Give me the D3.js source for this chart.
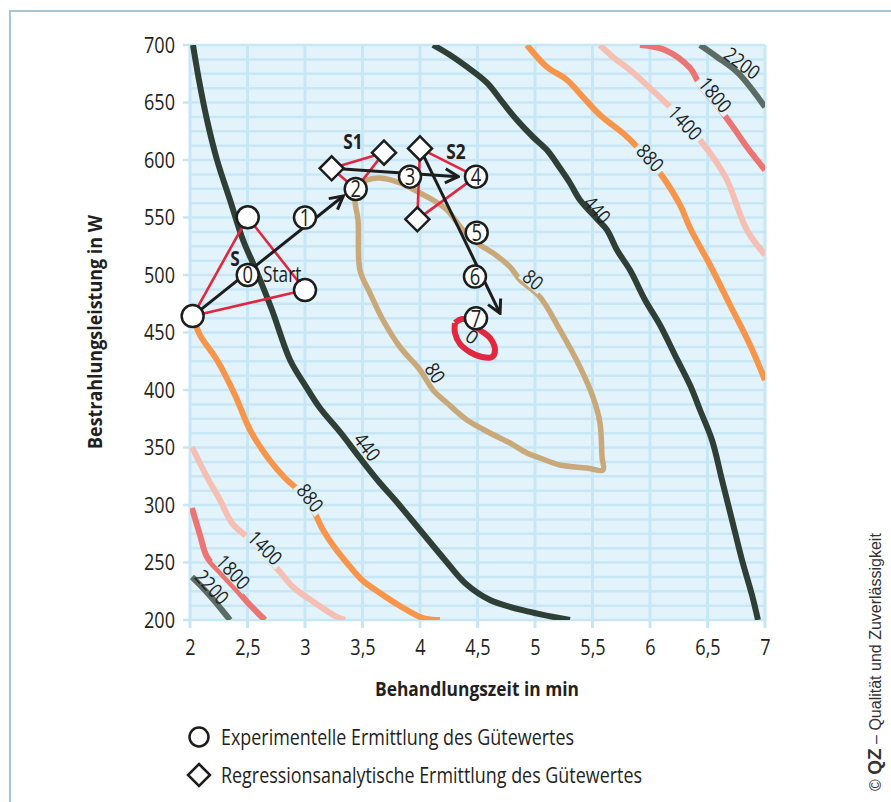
<!DOCTYPE html>
<html lang="de">
<head>
  <meta charset="UTF-8">
  <title>Gütewert</title>
  <style>
    body { margin: 0; background: #fff; }
    text { font-family: "Open Sans", "Noto Sans", sans-serif; fill: #231f20; }
  </style>
</head>
<body>
  <svg></svg>
  <script src="https://cdn.jsdelivr.net/npm/d3@7"></script>
  <script>
    var width = 891
    var height = 802

    // axes
    var xTicks = [2, 2.5, 3, 3.5, 4, 4.5, 5, 5.5, 6, 6.5, 7]
    var yTicks = [200, 250, 300, 350, 400, 450, 500, 550, 600, 650, 700]

    // contour lines (Behandlungszeit, Bestrahlungsleistung)
    var c440a = [[2.026,700],[2.078,669.6],[2.148,634.8],[2.235,600],[2.348,565.2],[2.461,530.4],[2.574,504.3],[2.713,469.6],[2.87,426.1],[3.0,404.3],[3.13,384.3],[3.304,363.5],[3.478,340.9],[3.652,319.1],[3.783,304.3],[4.0,278.3],[4.217,252.2],[4.391,232.2],[4.609,217.4],[4.957,207],[5.304,200]]
    var c440b = [[4.113,700],[4.261,691.3],[4.409,680.9],[4.583,667],[4.722,649.6],[4.843,634.8],[4.983,620],[5.104,608.7],[5.217,593],[5.304,580],[5.391,565.2],[5.539,548.7],[5.626,539.1],[5.713,521.7],[5.826,504.3],[5.957,478.3],[6.087,456.5],[6.217,430.4],[6.348,404.3],[6.435,382.6],[6.539,356.5],[6.626,321.7],[6.713,287],[6.8,252.2],[6.887,221.7],[6.939,200]]
    var c880a = [[2.026,463.5],[2.087,447.8],[2.235,426.1],[2.391,395.7],[2.522,365.2],[2.678,340.9],[2.826,323.5],[2.939,313],[3.061,297.4],[3.157,278.3],[3.261,262.6],[3.365,249.6],[3.496,234.8],[3.652,223.5],[3.826,212.2],[4.026,201.7],[4.174,200]]
    var c880b = [[4.93,700],[5.104,680.9],[5.278,669.6],[5.417,654.8],[5.565,639.1],[5.783,621.7],[5.913,608.7],[6.017,597.4],[6.13,582.6],[6.261,560.9],[6.348,540.9],[6.522,508.7],[6.696,473.9],[6.87,439.1],[7.0,408.7]]
    var c1400a = [[2.017,350.4],[2.148,324.3],[2.261,304.3],[2.365,284.3],[2.496,272.2],[2.652,256.5],[2.783,241.7],[2.896,228.7],[3.087,214.8],[3.278,202.6],[3.348,200]]
    var c1400b = [[5.565,700],[5.678,689.6],[5.826,678.3],[6.0,662.6],[6.174,646.1],[6.304,632.2],[6.435,617.4],[6.565,600],[6.67,582.6],[6.843,539.1],[7.0,517.4]]
    var c1800a = [[2.017,297.4],[2.087,273.9],[2.148,254.8],[2.261,241.7],[2.391,227.8],[2.522,213],[2.652,200]]
    var c1800b = [[5.913,700],[6.13,695.7],[6.348,680],[6.435,665.2],[6.565,649.6],[6.722,628.7],[6.843,611.3],[7.0,591.3]]
    var c2200a = [[2.017,237.4],[2.087,230.4],[2.191,219.1],[2.278,208.7],[2.348,200]]
    var c2200b = [[6.435,700],[6.583,689.6],[6.765,675.7],[7.0,646.1]]
    var c80 = [[3.461,577.4],[3.539,582.6],[3.652,584.3],[3.826,580],[4.0,571.3],[4.113,565.2],[4.235,556.5],[4.374,539.1],[4.496,527.8],[4.635,519.1],[4.783,507],[4.87,495.7],[5.043,480.9],[5.217,452.2],[5.391,420],[5.504,393.9],[5.565,371.3],[5.583,341.7],[5.591,330.4],[5.452,332.2],[5.217,334.8],[5.043,340.9],[4.93,345.2],[4.783,353.9],[4.609,362.6],[4.409,373.9],[4.235,388.7],[4.113,400],[4.0,417.4],[3.826,437.4],[3.678,460.9],[3.565,484.3],[3.478,504.3],[3.461,547.8],[3.435,565.2],[3.461,577.4]]
    var c0 = [[4.304,458.3],[4.365,461.7],[4.435,460],[4.522,452.2],[4.609,445.2],[4.652,434.8],[4.626,428.7],[4.539,428.7],[4.435,433],[4.348,440],[4.304,449.6],[4.304,458.3]]

    var contours = [
      {level: "80", color: "#c9a979", pts: c80},
      {level: "440", color: "#2f3f36", pts: c440a},
      {level: "440", color: "#2f3f36", pts: c440b},
      {level: "880", color: "#f7954a", pts: c880a},
      {level: "880", color: "#f7954a", pts: c880b},
      {level: "1400", color: "#f6bfb4", pts: c1400a},
      {level: "1400", color: "#f6bfb4", pts: c1400b},
      {level: "1800", color: "#ec7472", pts: c1800a},
      {level: "1800", color: "#ec7472", pts: c1800b},
      {level: "2200", color: "#5c6b64", pts: c2200a},
      {level: "2200", color: "#5c6b64", pts: c2200b},
      {level: "0", color: "#e2283f", pts: c0}
    ]

    // contour labels: position, line it follows, whether the line is cut under it
    var contourLabels = [
      {text: "440", x: 3.539, y: 350.4, line: c440a, gap: false},
      {text: "440", x: 5.539, y: 556.5, line: c440b, gap: false},
      {text: "880", x: 3.043, y: 306.1, line: c880a, gap: true},
      {text: "880", x: 6.0, y: 601.7, line: c880b, gap: true},
      {text: "1400", x: 2.652, y: 262.6, line: c1400a, gap: true},
      {text: "1400", x: 6.304, y: 632.2, line: c1400b, gap: true},
      {text: "1800", x: 2.374, y: 241.7, line: c1800a, gap: true},
      {text: "1800", x: 6.565, y: 656.5, line: c1800b, gap: true},
      {text: "2200", x: 2.19, y: 228.5, line: c2200a, gap: false},
      {text: "2200", x: 6.8, y: 684, line: c2200b, gap: false},
      {text: "80", x: 4.983, y: 495.7, line: c80, gap: true},
      {text: "80", x: 4.13, y: 414.8, line: c80, gap: false}
    ]
    var zeroLabel = {text: "0", x: 4.452, y: 446.1}

    // experimental points (circles) and regression points (diamonds)
    var circles = [
      {id: "L", x: 2.023, y: 464.3, label: ""},
      {id: "T", x: 2.502, y: 550.2, label: ""},
      {id: "R", x: 3.0, y: 486.9, label: ""},
      {id: "p0", x: 2.502, y: 500, label: "0"},
      {id: "p1", x: 3.0, y: 549.9, label: "1"},
      {id: "p2", x: 3.441, y: 574.8, label: "2"},
      {id: "p3", x: 3.913, y: 585.5, label: "3"},
      {id: "p4", x: 4.487, y: 585.5, label: "4"},
      {id: "p5", x: 4.493, y: 536.8, label: "5"},
      {id: "p6", x: 4.478, y: 498.6, label: "6"},
      {id: "p7", x: 4.487, y: 462.3, label: "7"}
    ]
    var diamonds = [
      {id: "S1a", x: 3.232, y: 592.8},
      {id: "S1b", x: 3.687, y: 606.4},
      {id: "S2a", x: 4.0, y: 610.1},
      {id: "S2b", x: 3.977, y: 548.4}
    ]
    var simplexEdges = [["L","T"],["T","R"],["R","L"],["S1a","S1b"],["S1b","p2"],["p2","S1a"],["S2a","p4"],["p4","S2b"],["S2b","S2a"]]
    var arrows = [
      {from: "L", to: [3.333, 568.7]},
      {from: "S1a", to: [4.333, 585.5]},
      {from: "S2a", to: [4.696, 466.7]}
    ]
    var pointLabels = [
      {text: "S", x: 2.391, y: 514.8, bold: true, anchor: "middle"},
      {text: "Start", x: 2.635, y: 500.9, bold: false, anchor: "start"},
      {text: "S1", x: 3.417, y: 616.5, bold: true, anchor: "middle"},
      {text: "S2", x: 4.313, y: 607.8, bold: true, anchor: "middle"}
    ]
    var legendItems = ["Experimentelle Ermittlung des Gütewertes", "Regressionsanalytische Ermittlung des Gütewertes"]

    var de = d3.formatLocale({decimal: ",", thousands: ".", grouping: [3], currency: ["", " €"]})
    var fmt = de.format("~g")

    var x = d3.scaleLinear().domain([2, 7]).range([190, 765])
    var y = d3.scaleLinear().domain([200, 700]).range([620, 45])

    var svg = d3.select("svg").attr("width", width).attr("height", height)

    // condensed look: squeeze text horizontally
    function squeeze(sel, k) {
      sel.each(function () {
        var w = this.getComputedTextLength()
        d3.select(this).attr("textLength", w * k).attr("lengthAdjust", "spacingAndGlyphs")
      })
    }

    // frame
    svg.append("rect").attr("x", 10).attr("y", 11).attr("width", 900).attr("height", 900)
      .attr("fill", "none").attr("stroke", "#a6c6d3").attr("stroke-width", 2)

    // plot background + grid
    var gridColor = "#c7e7f7"
    svg.append("rect").attr("x", x(2)).attr("y", y(700))
      .attr("width", x(7) - x(2)).attr("height", y(200) - y(700)).attr("fill", "#e2f3fb")
    svg.append("g").selectAll("line").data(d3.range(200, 700.1, 12.5)).join("line")
      .attr("x1", d => d % 50 == 0 ? x(2) - 7 : x(2)).attr("x2", x(7))
      .attr("y1", d => y(d)).attr("y2", d => y(d))
      .attr("stroke", gridColor).attr("stroke-width", 2.5)
    svg.append("g").selectAll("line").data(xTicks).join("line")
      .attr("x1", d => x(d)).attr("x2", d => x(d))
      .attr("y1", y(700)).attr("y2", y(200) + 8)
      .attr("stroke", gridColor).attr("stroke-width", 3)

    // axes labels
    var xAxis = svg.append("g")
      .attr("transform", `translate(0, ${y(200)})`)
      .call(d3.axisBottom(x).tickValues(xTicks).tickFormat(fmt).tickSize(0).tickPadding(19))
    var yAxis = svg.append("g")
      .attr("transform", `translate(${x(2)}, 0)`)
      .call(d3.axisLeft(y).tickValues(yTicks).tickFormat(fmt).tickSize(0).tickPadding(15))
    svg.selectAll(".domain").remove()
    svg.selectAll(".tick text").attr("font-size", 22).attr("font-family", null).style("fill", "#231f20")
    squeeze(svg.selectAll(".tick text"), 0.82)

    svg.append("text").attr("x", 477).attr("y", 696).attr("text-anchor", "middle")
      .attr("font-size", 20).attr("font-weight", "bold").text("Behandlungszeit in min")
      .attr("textLength", 204).attr("lengthAdjust", "spacingAndGlyphs")
    svg.append("text").attr("transform", "translate(102, 332) rotate(-90)").attr("text-anchor", "middle")
      .attr("font-size", 20).attr("font-weight", "bold").text("Bestrahlungsleistung in W")
      .attr("textLength", 234).attr("lengthAdjust", "spacingAndGlyphs")

    // contours
    var defs = svg.append("defs")
    var line = d3.line().x(d => x(d[0])).y(d => y(d[1])).curve(d3.curveCatmullRom.alpha(0.5))
    var mask = defs.append("mask").attr("id", "gaps").attr("maskUnits", "userSpaceOnUse")
      .attr("x", 0).attr("y", 0).attr("width", width).attr("height", height)
    mask.append("rect").attr("width", width).attr("height", height).attr("fill", "#fff")

    var clip = defs.append("clipPath").attr("id", "plot")
    clip.append("rect").attr("x", x(2)).attr("y", y(700)).attr("width", x(7) - x(2)).attr("height", y(200) - y(700))

    var cg = svg.append("g").attr("clip-path", "url(#plot)")
      .append("g").attr("mask", "url(#gaps)")
    cg.selectAll("path").data(contours).join("path")
      .attr("d", d => line(d.pts))
      .attr("fill", "none").attr("stroke", d => d.color)
      .attr("stroke-width", d => d.level == "80" ? 5.5 : 6)
      .attr("stroke-linejoin", "round")

    function angleAt(lab) {
      var px = x(lab.x), py = y(lab.y), best = Infinity, ang = 0
      for (var i = 0; i < lab.line.length - 1; i++) {
        var ax = x(lab.line[i][0]), ay = y(lab.line[i][1])
        var bx = x(lab.line[i + 1][0]), by = y(lab.line[i + 1][1])
        var dx = bx - ax, dy = by - ay
        var t = Math.max(0, Math.min(1, ((px - ax) * dx + (py - ay) * dy) / (dx * dx + dy * dy)))
        var qx = ax + t * dx - px, qy = ay + t * dy - py
        var dist = qx * qx + qy * qy
        if (dist < best) { best = dist; ang = Math.atan2(dy, dx) * 180 / Math.PI }
      }
      if (ang > 90) ang -= 180
      if (ang < -90) ang += 180
      return ang
    }

    var lg = svg.append("g")
    contourLabels.forEach(function (lab) {
      var a = angleAt(lab)
      var t = lg.append("text")
        .attr("transform", `translate(${x(lab.x)}, ${y(lab.y)}) rotate(${a})`)
        .attr("text-anchor", "middle").attr("dy", "0.35em")
        .attr("font-size", 20).text(lab.text)
      var w = t.node().getComputedTextLength()
      squeeze(t, 0.85)
      if (lab.gap) {
        var gw = w * 0.85 + 6
        mask.append("rect").attr("x", -gw / 2).attr("y", -8).attr("width", gw).attr("height", 16)
          .attr("fill", "#000")
          .attr("transform", `translate(${x(lab.x)}, ${y(lab.y)}) rotate(${a})`)
      }
    })
    lg.append("text")
      .attr("transform", `translate(${x(zeroLabel.x)}, ${y(zeroLabel.y)}) rotate(35)`)
      .attr("text-anchor", "middle").attr("dy", "0.35em").attr("font-size", 19).text(zeroLabel.text)

    // simplex edges and arrows
    var all = {}
    circles.concat(diamonds).forEach(d => all[d.id] = d)

    defs.append("marker").attr("id", "head").attr("viewBox", "0 -9 17 18")
      .attr("refX", 15).attr("refY", 0).attr("markerWidth", 17).attr("markerHeight", 18)
      .attr("markerUnits", "userSpaceOnUse").attr("orient", "auto")
      .append("path").attr("d", "M2,-7L15,0L2,7").attr("fill", "none")
      .attr("stroke", "#1d1d1b").attr("stroke-width", 3).attr("stroke-linejoin", "miter")

    svg.append("g").selectAll("line").data(simplexEdges).join("line")
      .attr("x1", d => x(all[d[0]].x)).attr("y1", d => y(all[d[0]].y))
      .attr("x2", d => x(all[d[1]].x)).attr("y2", d => y(all[d[1]].y))
      .attr("stroke", "#e2263f").attr("stroke-width", 2.6)

    svg.append("g").selectAll("line").data(arrows).join("line")
      .attr("x1", d => x(all[d.from].x)).attr("y1", d => y(all[d.from].y))
      .attr("x2", d => x(d.to[0])).attr("y2", d => y(d.to[1]))
      .attr("stroke", "#1d1d1b").attr("stroke-width", 3)
      .attr("marker-end", "url(#head)")

    // markers
    var diamondPath = "M0,-12L12,0L0,12L-12,0Z"
    svg.append("g").selectAll("path").data(diamonds).join("path")
      .attr("d", diamondPath)
      .attr("transform", d => `translate(${x(d.x)}, ${y(d.y)})`)
      .attr("fill", "#fff").attr("stroke", "#1d1d1b").attr("stroke-width", 2.5)

    var cgp = svg.append("g").selectAll("g").data(circles).join("g")
      .attr("transform", d => `translate(${x(d.x)}, ${y(d.y)})`)
    cgp.append("circle").attr("r", 11)
      .attr("fill", "#fff").attr("stroke", "#1d1d1b").attr("stroke-width", 2.5)
    cgp.append("text").attr("text-anchor", "middle").attr("dy", "0.36em")
      .attr("font-size", 23).text(d => d.label)
      .call(squeeze, 0.8)

    svg.append("g").selectAll("text").data(pointLabels).join("text")
      .attr("x", d => x(d.x)).attr("y", d => y(d.y)).attr("dy", "0.36em")
      .attr("text-anchor", d => d.anchor)
      .attr("font-weight", d => d.bold ? "bold" : null)
      .attr("font-size", 21).text(d => d.text)
      .call(squeeze, 0.82)

    // legend
    var leg = svg.append("g").attr("transform", "translate(199, 737)")
    leg.append("circle").attr("r", 9.5).attr("fill", "#fff").attr("stroke", "#1d1d1b").attr("stroke-width", 2.5)
    leg.append("path").attr("d", "M0,-11L11,0L0,11L-11,0Z").attr("transform", "translate(0, 38)")
      .attr("fill", "#fff").attr("stroke", "#1d1d1b").attr("stroke-width", 2.5)
    leg.selectAll("text").data(legendItems).join("text")
      .attr("x", 22).attr("y", (d, i) => i * 38).attr("dy", "0.36em")
      .attr("font-size", 21).text(d => d)
      .attr("textLength", (d, i) => i == 0 ? 353 : 421).attr("lengthAdjust", "spacingAndGlyphs")

    // copyright
    var cr = svg.append("text").attr("transform", "translate(881, 791) rotate(-90)")
      .attr("font-size", 16).style("font-family", "'Liberation Sans', Arial, sans-serif").style("fill", "#333")
    cr.append("tspan").text("© ")
    cr.append("tspan").attr("font-weight", "bold").attr("font-size", 19).text("QZ")
    cr.append("tspan").text(" – Qualität und Zuverlässigkeit")
  </script>
</body>
</html>
